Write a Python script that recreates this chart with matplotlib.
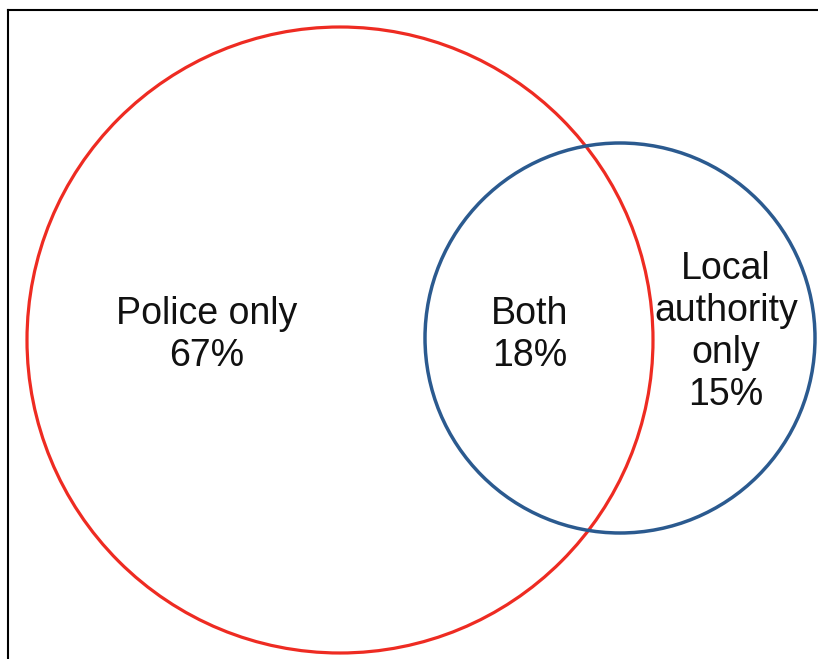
import matplotlib
matplotlib.use("Agg")
import matplotlib.pyplot as plt
from matplotlib.patches import Circle

# region labels and shares (%)
regions = ["Police only", "Both", "Local\nauthority\nonly"]
shares = [67, 18, 15]

# circle layout in pixel units (x, y, radius)
police_circle = (340, 340, 313)
la_circle = (620, 338, 195)
label_pos = [(207, 335), (530, 335), (726, 332)]

fig = plt.figure(figsize=(8.18, 6.59), dpi=100)
W, H = 818, 659
ax = fig.add_axes([8 / W, 0, (W - 8) / W, (H - 10) / H])
ax.set_xlim(8, W)
ax.set_ylim(H, 10)
ax.set_xticks([])
ax.set_yticks([])
for side in ["right", "bottom"]:
    ax.spines[side].set_visible(False)
for side in ["left", "top"]:
    ax.spines[side].set_linewidth(1.5)
    ax.spines[side].set_color("black")

ax.add_patch(Circle(police_circle[:2], police_circle[2], fill=False,
                    edgecolor="#EE2B22", linewidth=2.3))
ax.add_patch(Circle(la_circle[:2], la_circle[2], fill=False,
                    edgecolor="#2B5A8F", linewidth=2.5))

for name, pct, (x, y) in zip(regions, shares, label_pos):
    ax.text(x, y, f"{name}\n{pct}%", ha="center", va="center",
            fontsize=27, family="Liberation Sans", linespacing=1.22,
            color="#111111")

fig.savefig("out.png", dpi=100)
